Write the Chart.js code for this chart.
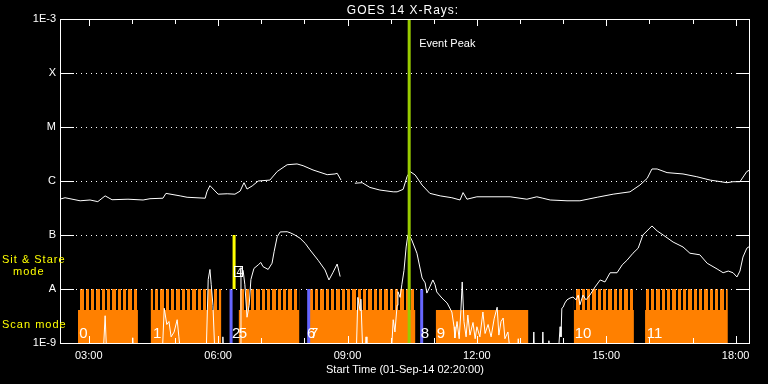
<!DOCTYPE html>
<html>
<head>
<meta charset="utf-8">
<script src="https://cdn.jsdelivr.net/npm/chart.js@4.4.1/dist/chart.umd.min.js"></script>
<style>
  html, body { margin: 0; padding: 0; background: #000; }
  canvas { display: block; }
</style>
</head>
<body>
<canvas id="goes" width="768" height="384"></canvas>
<script>
// hours UT on 01-Sep-14, flux in W/m^2
const longTime = [2.33, 2.45, 2.80, 3.03, 3.21, 3.38, 3.54, 3.91, 4.26, 4.42, 4.72, 4.79, 5.12, 5.28, 5.70, 5.74,
  5.81, 6.00, 6.21, 6.39, 6.51, 6.60, 6.67, 6.79, 6.93, 7.20, 7.37, 7.60, 7.83, 7.97, 8.20, 8.53, 8.71, 8.76,
  8.85, 9.00, 9.17, 9.34, 9.52, 9.75, 10.06, 10.15, 10.29, 10.38, 10.45, 10.57, 10.73, 10.91, 11.15, 11.42,
  11.61, 11.68, 11.77, 12.00, 12.77, 13.16, 13.39, 13.53, 13.70, 14.09, 14.39, 14.79, 15.16, 15.55, 15.78,
  15.95, 16.06, 16.18, 16.41, 16.78, 17.10, 17.41, 17.80, 17.94, 18.10, 18.26, 18.33];
const longFlux = [4.6e-7, 4.9e-7, 4.3e-7, 4.45e-7, 4.15e-7, 5.3e-7, 4.5e-7, 4.6e-7, 4.45e-7, 4.7e-7, 4.8e-7,
  5.9e-7, 5.3e-7, 5.0e-7, 4.8e-7, 6.3e-7, 8.2e-7, 5.7e-7, 5.8e-7, 5.7e-7, 6.5e-7, 9.3e-7, 7.1e-7, 8.1e-7,
  1.0e-6, 1.04e-6, 1.5e-6, 2.0e-6, 2.07e-6, 1.92e-6, 1.6e-6, 1.31e-6, 1.35e-6, 1.39e-6, 1.04e-6, null,
  9.1e-7, 9.3e-7, 7.6e-7, 6.8e-7, 6.3e-7, 6.3e-7, 7.0e-7, 1.2e-6, 1.5e-6, 1.29e-6, 8.4e-7, 5.9e-7, 5.3e-7,
  4.9e-7, 4.45e-7, 6.1e-7, 4.6e-7, 5.1e-7, 5.1e-7, 4.6e-7, 5.1e-7, 4.8e-7, 4.45e-7, 4.3e-7, 4.3e-7, 5.0e-7,
  5.7e-7, 6.3e-7, 8.4e-7, 1.12e-6, 1.67e-6, 1.67e-6, 1.43e-6, 1.35e-6, 1.2e-6, 1.04e-6, 9.3e-7, 9.7e-7,
  9.7e-7, 1.5e-6, 1.6e-6];

const shortTime = [2.33, 3.33, 3.38, 3.42, 4.00, 4.02, 4.05, 4.70, 4.75, 4.81, 4.86, 4.91, 4.98, 5.05, 5.09,
  5.14, 5.72, 5.77, 5.81, 5.84, 5.88, 5.93, 6.09, 6.11, 6.13, 6.51, 6.53, 6.58, 6.62, 6.67, 6.72, 6.76, 6.83,
  6.93, 6.99, 7.04, 7.16, 7.25, 7.30, 7.37, 7.44, 7.60, 7.67, 7.78, 7.90, 8.02, 8.13, 8.32, 8.48, 8.57, 8.66,
  8.76, 8.83, 9.00, 9.15, 9.20, 9.24, 9.29, 9.31, 9.36, 9.41, 9.43, 9.45, 10.01, 10.06, 10.10, 10.15, 10.17,
  10.22, 10.26, 10.31, 10.36, 10.40, 10.45, 10.49, 10.61, 10.73, 10.80, 10.84, 10.91, 10.98, 11.03, 11.07,
  11.19, 11.31, 11.42, 11.47, 11.49, 11.54, 11.59, 11.63, 11.66, 11.70, 11.75, 11.79, 11.84, 11.91, 11.96,
  12.00, 12.07, 12.14, 12.19, 12.26, 12.33, 12.40, 12.47, 12.51, 12.56, 12.61, 12.65, 12.72, 12.79, 12.94,
  12.96, 12.98, 13.30, 13.32, 13.34, 13.51, 13.53, 13.55, 13.65, 13.67, 13.69, 13.88, 13.93, 13.95, 13.97,
  14.00, 14.04, 14.09, 14.16, 14.23, 14.30, 14.35, 14.39, 14.46, 14.53, 14.62, 14.74, 14.86, 14.97, 15.09,
  15.25, 15.37, 15.48, 15.62, 15.74, 15.85, 16.06, 16.18, 16.32, 16.55, 16.78, 16.94, 17.17, 17.34, 17.57,
  17.71, 17.83, 17.94, 18.03, 18.10, 18.17, 18.26, 18.33];
const shortFlux = [5e-10, 5e-10, 3.2e-9, 5e-10, 5e-10, 1.25e-9, 5e-10, 5e-10, 4.4e-9, 2.2e-9, 2.5e-9, 1.3e-9,
  1.6e-9, 2.7e-9, 1.3e-9, 5e-10, 5e-10, 1.5e-8, 2.3e-8, 1.2e-8, 5e-9, 5e-10, 5e-10, 1.3e-9, 5e-10, 5e-10,
  2.5e-8, 2.2e-8, 1.2e-8, 3e-9, 5e-9, 1.5e-8, 2.4e-8, 2.8e-8, 3.1e-8, 2.6e-8, 2.3e-8, 3.0e-8, 5.0e-8, 9.3e-8,
  1.14e-7, 1.15e-7, 1.1e-7, 1.0e-7, 8.7e-8, 7.0e-8, 5.3e-8, 3.4e-8, 2.25e-8, 1.47e-8, 2.0e-8, 2.9e-8, 1.7e-8,
  null, 5e-10, 5e-10, 7e-9, 4e-9, 6.5e-9, 5e-10, 5e-10, 1.3e-9, 5e-10, 5e-10, 2.7e-9, 1.6e-9, 5e-9, 8.9e-9,
  7e-9, 1.2e-8, 2.2e-8, 6e-8, 1.0e-7, 9.3e-8, 8.1e-8, 4.6e-8, 1.6e-8, 1.3e-8, 8.4e-9, 1.1e-8, 1.47e-8, 1.2e-8,
  8.8e-9, 6.8e-9, 5.5e-9, 3.75e-9, 2e-9, 1.24e-9, 2.5e-9, 1.2e-9, 4e-9, 1.35e-8, 2.5e-9, 1.3e-9, 3.3e-9,
  1.4e-9, 2.4e-9, 1.2e-9, 2e-9, 1.3e-9, 3.75e-9, 1.5e-9, 2.2e-9, 1.3e-9, 2.8e-9, 4.6e-9, 1.4e-9, 2.5e-9,
  2.9e-9, 1.2e-9, 1.6e-9, 5e-10, 5e-10, 1.2e-9, 5e-10, 5e-10, 1.6e-9, 5e-10, 5e-10, 1.6e-9, 5e-10, 5e-10,
  1.1e-9, 5e-10, 5e-10, 2.0e-9, 1.3e-9, 4.4e-9, 4.6e-9, 5.5e-9, 6.3e-9, 6.8e-9, 7.1e-9, 6.3e-9, 7.7e-9,
  5.1e-9, 7.7e-9, 6.3e-9, 7.7e-9, 1.09e-8, 1.47e-8, 1.35e-8, 2.0e-8, 2.0e-8, 2.8e-8, 3.4e-8, 4.6e-8, 5.7e-8,
  1.0e-7, 1.47e-7, 1.19e-7, 1.0e-7, 7.4e-8, 6.0e-8, 4.6e-8, 4.3e-8, 3.0e-8, 2.35e-8, 2.0e-8, 2.15e-8, 2.0e-8,
  1.67e-8, 2.15e-8, 3.9e-8, 5.7e-8, 6.2e-8];

// observing blocks (scan mode), hours
const blockStart = [2.75, 4.44, 6.48, 8.13, 11.05, 14.25, 15.90];
const blockEnd = [4.14, 6.07, 7.88, 10.57, 13.19, 15.64, 17.82];
const blockStriped = [true, true, true, true, false, true, true];
const scanTop = 4.1e-9;
const stareTop = 1e-8;

const blockLabelTime = [2.78, 4.49, 6.32, 6.48, 8.06, 8.13, 10.70, 11.07, 14.27, 15.94];
const blockLabelText = ['0', '1', '2', '5', '6', '7', '8', '9', '10', '11'];
const boxLabelTime = 6.47;
const boxLabelFlux = 2.07e-8;
const boxLabelText = '4';

const blueMarks = [6.30, 8.10, 10.72];
const yellowMark = 6.37;
const eventPeak = 10.43;

const levelValues = [1e-9, 1e-8, 1e-7, 1e-6, 1e-5, 1e-4, 1e-3];
const levelLabels = ['1E-9', 'A', 'B', 'C', 'M', 'X', '1E-3'];
const hourTicks = [3, 4, 5, 6, 7, 8, 9, 10, 11, 12, 13, 14, 15, 16, 17, 18];

const FONT = 'Liberation Sans';
const ORANGE = '#ff8000';

const canvas = document.getElementById('goes');
const ctx = canvas.getContext('2d');

// stripes for the sit & stare part of a block
const tile = document.createElement('canvas');
tile.width = 16; tile.height = 4;
const tctx = tile.getContext('2d');
tctx.fillStyle = ORANGE;
tctx.fillRect(0, 0, 4, 4);
tctx.fillRect(6, 0, 3, 4);
tctx.fillRect(11, 0, 3, 4);
const stripes = ctx.createPattern(tile, 'repeat');

const solidPts = [];
const stripePts = [];
blockStart.forEach((s, i) => {
  const e = blockEnd[i];
  solidPts.push({x: s, y: 1e-9}, {x: s, y: scanTop}, {x: e, y: scanTop}, {x: e, y: 1e-9});
  if (blockStriped[i]) {
    stripePts.push({x: s, y: scanTop}, {x: s, y: stareTop}, {x: e, y: stareTop}, {x: e, y: scanTop});
  }
});

const bluePts = [];
blueMarks.forEach(t => bluePts.push({x: t, y: 1e-9}, {x: t, y: 1e-8}, {x: t, y: null}));

const longPts = longTime.map((t, i) => ({x: t, y: longFlux[i]}));
const shortPts = shortTime.map((t, i) => ({x: t, y: shortFlux[i]}));

const frame = {
  id: 'frame',
  afterDatasetsDraw(chart) {
    const {ctx, chartArea: a, scales: {x, y}} = chart;
    ctx.save();
    ctx.fillStyle = '#fff';
    // level lines: solid ticks at both sides, dotted in between
    levelValues.forEach((v, i) => {
      const py = Math.round(y.getPixelForValue(v));
      if (i > 0 && i < levelValues.length - 1) {
        for (let px = a.left + 16; px < a.right - 14; px += 5) ctx.fillRect(px, py, 1, 1);
      }
      ctx.fillRect(a.left, py, 14, 1);
      ctx.fillRect(a.right - 14, py, 14, 1);
    });
    // box
    ctx.fillRect(a.left, a.top, 1, a.bottom - a.top + 1);
    ctx.fillRect(a.right - 1, a.top, 1, a.bottom - a.top + 1);
    ctx.fillRect(a.left, a.top, a.right - a.left, 1);
    ctx.fillRect(a.left, a.bottom, a.right - a.left, 1);
    // hour ticks
    hourTicks.forEach(h => {
      const px = Math.round(x.getPixelForValue(h));
      const len = h % 3 === 0 ? 7 : 5;
      ctx.fillRect(px, a.top, 1, len);
      ctx.fillRect(px, a.bottom - len, 1, len);
    });

    // block numbers
    ctx.font = '15px "' + FONT + '"';
    ctx.textAlign = 'left';
    ctx.textBaseline = 'alphabetic';
    blockLabelTime.forEach((t, i) => {
      ctx.fillText(blockLabelText[i], x.getPixelForValue(t), a.bottom - 5);
    });
    const bx = x.getPixelForValue(boxLabelTime);
    const by = y.getPixelForValue(boxLabelFlux);
    ctx.strokeStyle = '#fff';
    ctx.lineWidth = 1;
    ctx.strokeRect(Math.round(bx) - 3.5, Math.round(by) - 5.5, 8, 10);
    ctx.font = '10px "' + FONT + '"';
    ctx.textAlign = 'center';
    ctx.fillText(boxLabelText, bx + 1, by + 4);

    // texts
    ctx.font = '11px "' + FONT + '"';
    ctx.textAlign = 'left';
    ctx.fillText('Event Peak', x.getPixelForValue(eventPeak) + 10, a.top + 28);

    ctx.textAlign = 'center';
    ctx.fillText('Start Time (01-Sep-14 02:20:00)', (a.left + a.right) / 2, 373);

    ctx.font = '12px "' + FONT + '"';
    ctx.letterSpacing = '1px';
    ctx.fillText('GOES 14 X-Rays:', (a.left + a.right) / 2 - 2, 14);

    ctx.font = '11px "' + FONT + '"';
    ctx.fillStyle = '#ffff00';
    ctx.textAlign = 'left';
    ctx.fillText('Sit & Stare', 2, 263);
    ctx.fillText('mode', 13, 275);
    ctx.fillText('Scan mode', 2, 328);
    ctx.restore();
  }
};

new Chart(ctx, {
  type: 'line',
  data: {
    datasets: [
      {data: [{x: eventPeak, y: 1e-9}, {x: eventPeak, y: 1e-3}], borderColor: '#99cc00', borderWidth: 3, order: 0},
      {data: longPts, borderColor: '#fff', borderWidth: 1, order: 1},
      {data: shortPts, borderColor: '#fff', borderWidth: 1, order: 1},
      {data: bluePts, borderColor: '#6666ff', borderWidth: 3, order: 2},
      {data: [{x: yellowMark, y: 1e-8}, {x: yellowMark, y: 1e-7}], borderColor: '#ffff00', borderWidth: 3, order: 2},
      {data: stripePts, borderWidth: 0, borderColor: 'rgba(0,0,0,0)', backgroundColor: stripes, fill: {value: scanTop}, order: 3},
      {data: solidPts, borderWidth: 0, borderColor: 'rgba(0,0,0,0)', backgroundColor: ORANGE, fill: {value: 1e-9}, order: 4}
    ]
  },
  options: {
    responsive: false,
    animation: false,
    devicePixelRatio: 1,
    layout: {padding: {left: 0, right: 18, top: 19, bottom: 0}},
    elements: {point: {radius: 0}, line: {tension: 0}},
    spanGaps: false,
    plugins: {legend: {display: false}, tooltip: {enabled: false}},
    scales: {
      x: {
        type: 'linear',
        min: 2 + 1 / 3,
        max: 18 + 1 / 3,
        afterBuildTicks: s => { s.ticks = hourTicks.map(v => ({value: v})); },
        afterFit: s => { s.height = 41; },
        grid: {display: false, drawTicks: false},
        border: {display: false},
        ticks: {
          color: '#fff', font: {family: FONT, size: 11}, padding: 6,
          maxRotation: 0, autoSkip: false,
          callback: v => v % 3 === 0 ? String(v).padStart(2, '0') + ':00' : ''
        }
      },
      y: {
        type: 'logarithmic',
        min: 1e-9,
        max: 1e-3,
        afterBuildTicks: s => { s.ticks = levelValues.map(v => ({value: v})); },
        afterFit: s => { s.width = 60; },
        grid: {display: false, drawTicks: false},
        border: {display: false},
        ticks: {
          color: '#fff', font: {family: FONT, size: 11}, padding: 4, autoSkip: false,
          callback: (v, i) => levelLabels[i]
        }
      }
    }
  },
  plugins: [frame]
});
</script>
</body>
</html>
